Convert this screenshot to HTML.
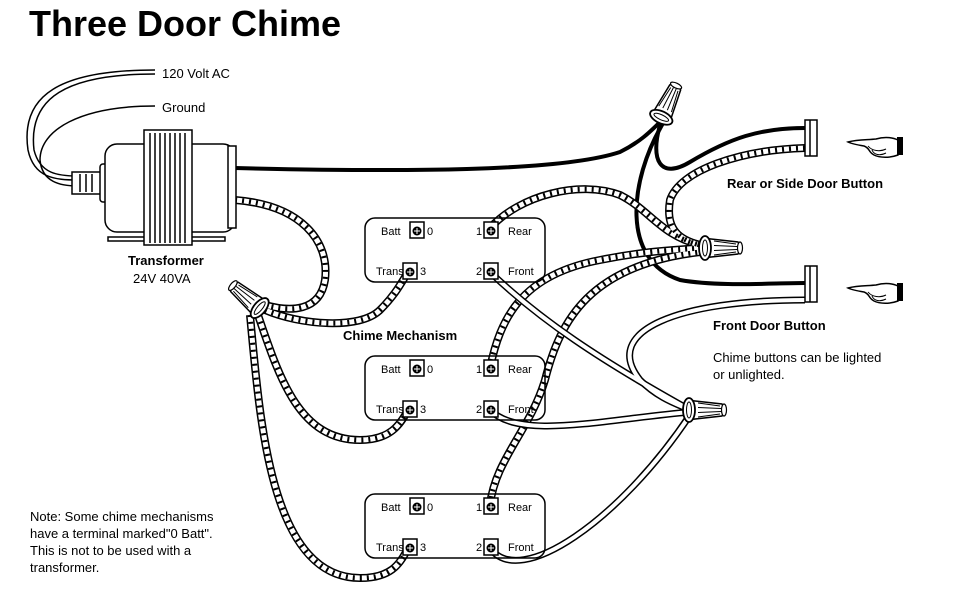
<!DOCTYPE html>
<html><head><style>
body{margin:0;background:#fff;}
svg{display:block;font-family:"Liberation Sans",Arial,sans-serif;}
</style></head><body>
<svg width="970" height="600" viewBox="0 0 970 600" xmlns="http://www.w3.org/2000/svg">
<defs>
<g id="term"><rect x="-7" y="-8" width="14" height="16" fill="#fff" stroke="#000" stroke-width="1.5"/><circle cx="0" cy="1" r="4.5" fill="#000"/><path d="M-3 1h6M0 -2v6" stroke="#fff" stroke-width="1"/></g>
<g id="nut"><path d="M0 -10 L36 -6 Q40 0 36 6 L0 10Z" fill="#fff" stroke="#000" stroke-width="1.5"/><ellipse cx="38" cy="0" rx="2.5" ry="6" fill="#fff" stroke="#000" stroke-width="1.2"/><ellipse cx="3" cy="0" rx="6" ry="12" fill="#fff" stroke="#000" stroke-width="1.8"/><ellipse cx="3" cy="0" rx="2.5" ry="8" fill="none" stroke="#000" stroke-width="1"/><path d="M12 -7L34 -4M12 -2.5L35 -1.5M12 2.5L35 1.5M12 7L34 4" stroke="#000" stroke-width="1" fill="none"/></g>
</defs>
<text x="29" y="36" font-size="36" font-weight="bold">Three Door Chime</text>

<g fill="none" stroke="#000" stroke-width="1.5">
<path d="M155 70 C60 70 20 95 28 150 C34 178 55 180 78 180"/>
<path d="M155 74 C66 74 28 98 34 150 C40 174 58 176 78 176"/>
<path d="M155 106 C80 106 40 130 40 160 C42 182 60 186 78 186"/>
</g>

<g fill="none" stroke-linecap="round">
<g stroke="#000" stroke-width="4">
<path d="M235 168 C400 172 560 172 620 152 C640 142 650 132 660 122"/>
<path d="M660 125 C650 160 660 180 690 162 C730 138 760 128 805 128"/>
<path d="M662 125 C630 180 620 260 680 280 C720 287 770 283 805 283"/>
</g>
<g id="stripes">
<path d="M235 200 C300 205 330 240 325 280 C320 312 290 312 265 305"/>
<path d="M265 310 C300 325 360 330 380 310 C395 295 400 285 408 272"/>
<path d="M258 315 C280 380 300 440 360 440 C390 440 400 425 408 410"/>
<path d="M250 315 C260 420 270 578 360 578 C390 578 400 565 408 548"/>
<path d="M490 228 C520 195 580 180 620 195 C650 210 660 235 700 245"/>
<path d="M805 148 C740 150 680 170 670 200 C665 230 680 240 700 245"/>
<path d="M490 368 C500 320 520 275 600 260 C650 250 680 250 700 248"/>
<path d="M490 505 C495 460 530 430 545 380 C560 320 590 265 700 252"/>
</g>
</g>
<g fill="none" stroke-linecap="butt">
<use href="#stripes" stroke="#000" stroke-width="8"/>
<use href="#stripes" stroke="#fff" stroke-width="5"/>
<use href="#stripes" stroke="#000" stroke-width="5" stroke-dasharray="2 5"/>
</g>
<g id="whites" fill="none">
<path d="M490 272 C540 320 600 360 690 410"/>
<path d="M490 410 C520 440 600 420 690 412"/>
<path d="M490 548 C520 590 620 520 690 415"/>
<path d="M805 300 C680 300 600 330 640 380 C660 400 680 405 690 410"/>
</g>
<g fill="none">
<use href="#whites" stroke="#000" stroke-width="7"/>
<use href="#whites" stroke="#fff" stroke-width="4"/>
</g>

<g stroke="#000" stroke-width="1.5" fill="#fff">
<rect x="72" y="172" width="30" height="22"/>
<path d="M80 174v18M86 174v18M92 174v18" />
<rect x="100" y="164" width="10" height="38" rx="3"/>
<rect x="105" y="144" width="130" height="88" rx="12"/>
<rect x="108" y="237" width="40" height="4"/>
<rect x="185" y="237" width="40" height="4"/>
<rect x="144" y="130" width="48" height="115"/>
<path d="M150 133v110M155 133v110M160 133v110M165 133v110M170 133v110M175 133v110M180 133v110M185 133v110"/>
<rect x="228" y="146" width="8" height="82"/>
</g>
<text x="128" y="265" font-size="13" font-weight="bold">Transformer</text>
<text x="133" y="283" font-size="13">24V 40VA</text>
<text x="162" y="78" font-size="13">120 Volt AC</text>
<text x="162" y="112" font-size="13">Ground</text>

<use href="#nut" transform="translate(660 120) rotate(-65)"/>
<use href="#nut" transform="translate(702 248)"/>
<use href="#nut" transform="translate(686 410)"/>
<use href="#nut" transform="translate(262 310) rotate(-140)"/>

<g font-size="11">
<g>
<rect x="365" y="218" width="180" height="64" rx="10" fill="none" stroke="#000" stroke-width="1.5"/>
<use href="#term" x="417" y="230"/><use href="#term" x="491" y="230"/><use href="#term" x="410" y="271"/><use href="#term" x="491" y="271"/>
<text x="381" y="235">Batt</text><text x="427" y="235">0</text><text x="476" y="235">1</text><text x="508" y="235">Rear</text>
<text x="376" y="275">Trans</text><text x="420" y="275">3</text><text x="476" y="275">2</text><text x="508" y="275">Front</text>
</g>
<g transform="translate(0 138)">
<rect x="365" y="218" width="180" height="64" rx="10" fill="none" stroke="#000" stroke-width="1.5"/>
<use href="#term" x="417" y="230"/><use href="#term" x="491" y="230"/><use href="#term" x="410" y="271"/><use href="#term" x="491" y="271"/>
<text x="381" y="235">Batt</text><text x="427" y="235">0</text><text x="476" y="235">1</text><text x="508" y="235">Rear</text>
<text x="376" y="275">Trans</text><text x="420" y="275">3</text><text x="476" y="275">2</text><text x="508" y="275">Front</text>
</g>
<g transform="translate(0 276)">
<rect x="365" y="218" width="180" height="64" rx="10" fill="none" stroke="#000" stroke-width="1.5"/>
<use href="#term" x="417" y="230"/><use href="#term" x="491" y="230"/><use href="#term" x="410" y="271"/><use href="#term" x="491" y="271"/>
<text x="381" y="235">Batt</text><text x="427" y="235">0</text><text x="476" y="235">1</text><text x="508" y="235">Rear</text>
<text x="376" y="275">Trans</text><text x="420" y="275">3</text><text x="476" y="275">2</text><text x="508" y="275">Front</text>
</g>
</g>
<text x="343" y="340" font-size="13" font-weight="bold">Chime Mechanism</text>

<g stroke="#000" stroke-width="1.5" fill="#fff">
<rect x="805" y="120" width="12" height="36"/><line x1="810" y1="120" x2="810" y2="156"/>
<rect x="805" y="266" width="12" height="36"/><line x1="810" y1="266" x2="810" y2="302"/>
<g id="hand"><path d="M848 142 C858 139 868 140 876 139 C886 136 894 138 898 140 L898 155 C890 158 880 158 874 155 C868 152 870 148 864 146 C858 145 852 144 848 142Z"/><path d="M868 146 C872 151 880 152 886 149 M872 150 C874 155 880 156 886 153" fill="none" stroke-width="1"/></g>
<use href="#hand" y="146"/>
</g>
<rect x="897" y="137" width="6" height="18" fill="#000"/>
<rect x="897" y="283" width="6" height="18" fill="#000"/>
<text x="727" y="188" font-size="13" font-weight="bold">Rear or Side Door Button</text>
<text x="713" y="330" font-size="13" font-weight="bold">Front Door Button</text>
<text x="713" y="362" font-size="13">Chime buttons can be lighted</text>
<text x="713" y="379" font-size="13">or unlighted.</text>

<g font-size="13">
<text x="30" y="521">Note: Some chime mechanisms</text>
<text x="30" y="538">have a terminal marked"0 Batt".</text>
<text x="30" y="555">This is not to be used with a</text>
<text x="30" y="572">transformer.</text>
</g>
</svg>
</body></html>
